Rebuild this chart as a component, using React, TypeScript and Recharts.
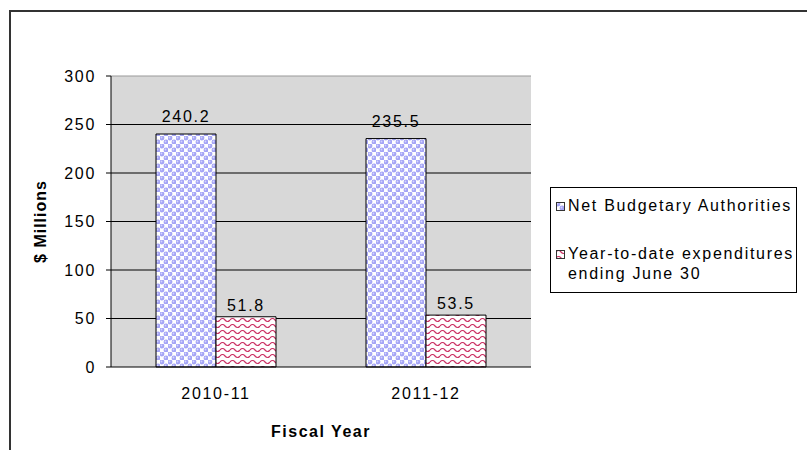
import React from 'react';
import {
  BarChart,
  Bar,
  XAxis,
  YAxis,
  CartesianGrid,
  LabelList,
  ReferenceLine,
} from 'recharts';

const categories = ['2010-11', '2011-12'];
const netBudgetary = [240.2, 235.5];
const ytdExpenditures = [51.8, 53.5];
const yTicks = [0, 50, 100, 150, 200, 250, 300];
const gridValues = [50, 100, 150, 200, 250];

const data = categories.map((name, i) => ({
  name,
  net: netBudgetary[i],
  ytd: ytdExpenditures[i],
}));

const FONT = '"Liberation Sans", Arial, sans-serif';
const SPACING = 1.7;

const legendItems = [
  { key: 'net', fill: 'url(#dots)', lines: ['Net Budgetary Authorities'] },
  { key: 'ytd', fill: 'url(#waves)', lines: ['Year-to-date expenditures', 'ending June 30'] },
];

function LegendBox() {
  return (
    <div
      style={{
        position: 'absolute',
        left: 550,
        top: 187,
        width: 245,
        height: 104,
        border: '1px solid #000',
        background: '#fff',
        fontFamily: FONT,
        fontSize: 16,
        letterSpacing: SPACING,
        color: '#000',
      }}
    >
      {legendItems.map((it, i) => (
        <div
          key={it.key}
          style={{
            display: 'flex',
            alignItems: 'flex-start',
            marginLeft: 5,
            marginTop: i === 0 ? 8 : 28,
            lineHeight: '20px',
          }}
        >
          <svg width={9} height={9} style={{ marginTop: 6, marginRight: 3, flexShrink: 0 }}>
            <rect x={0.5} y={0.5} width={8} height={8} fill={it.fill} stroke="#333" />
          </svg>
          <div>
            {it.lines.map((l) => (
              <div key={l}>{l}</div>
            ))}
          </div>
        </div>
      ))}
    </div>
  );
}

export default function App() {
  return (
    <div style={{ position: 'absolute', left: 0, top: 0, width: 807, height: 450, background: '#fff' }}>
      <div
        style={{
          position: 'absolute',
          left: 9,
          top: 10,
          width: 798,
          height: 440,
          borderTop: '2px solid #333',
          borderLeft: '2px solid #333',
        }}
      />
      <BarChart
        width={807}
        height={450}
        data={data}
        margin={{ top: 76, right: 276, bottom: 0, left: 0 }}
        barSize={60}
        barGap={0}
        style={{ position: 'absolute', left: 0, top: 0, fontFamily: FONT }}
      >
        <defs>
          <pattern id="dots" width={8} height={8} patternUnits="userSpaceOnUse">
            <rect width={8} height={8} fill="#fff" />
            <circle cx={2} cy={2} r={2.4} fill="#a3a3f5" />
            <circle cx={6} cy={6} r={2.4} fill="#a3a3f5" />
            <circle cx={1.5} cy={1.5} r={0.9} fill="#d4d4ff" />
            <circle cx={5.5} cy={5.5} r={0.9} fill="#d4d4ff" />
          </pattern>
          <pattern id="waves" width={10} height={6} patternUnits="userSpaceOnUse">
            <rect width={10} height={6} fill="#fff" />
            <path d="M0 2 Q2.5 -1 5 2 T10 2" fill="none" stroke="#cc3366" strokeWidth={1.2} />
          </pattern>
        </defs>
        <CartesianGrid
          vertical={false}
          horizontalValues={gridValues}
          stroke="#000"
          fill="#d8d8d8"
          fillOpacity={1}
        />
        <XAxis
          xAxisId="b"
          type="number"
          domain={[0, 2]}
          ticks={[0, 1, 2]}
          allowDataOverflow
          height={0}
          tick={false}
          tickSize={5}
          tickLine={{ stroke: '#000' }}
          axisLine={false}
        />
        <XAxis
          dataKey="name"
          height={83}
          tickLine={false}
          tickSize={0}
          tickMargin={21}
          axisLine={{ stroke: '#000' }}
          tick={{ fill: '#000', fontSize: 16, fontFamily: FONT, letterSpacing: SPACING }}
          label={{
            value: 'Fiscal Year',
            position: 'insideBottom',
            offset: 13,
            fill: '#000',
            fontSize: 16,
            fontWeight: 'bold',
            fontFamily: FONT,
            letterSpacing: 1.5,
          }}
        />
        <YAxis
          width={111}
          domain={[0, 300]}
          ticks={yTicks}
          tickSize={5}
          tickMargin={10}
          axisLine={{ stroke: '#000' }}
          tickLine={{ stroke: '#000' }}
          tick={{ fill: '#000', fontSize: 16, fontFamily: FONT, letterSpacing: SPACING }}
          label={{
            value: '$ Millions',
            angle: -90,
            position: 'center',
            dx: -15,
            fill: '#000',
            fontSize: 16,
            fontWeight: 'bold',
            fontFamily: FONT,
            letterSpacing: 1,
          }}
        />
        <ReferenceLine y={300} stroke="#999" />
        <ReferenceLine x={2} xAxisId="b" stroke="#999" />
        <Bar dataKey="net" fill="url(#dots)" stroke="#000" strokeWidth={1} isAnimationActive={false}>
          <LabelList
            dataKey="net"
            position="top"
            offset={12}
            fill="#000"
            fontSize={16}
            fontFamily={FONT}
            letterSpacing={SPACING}
          />
        </Bar>
        <Bar dataKey="ytd" fill="url(#waves)" stroke="#000" strokeWidth={1} isAnimationActive={false}>
          <LabelList
            dataKey="ytd"
            position="top"
            offset={6}
            fill="#000"
            fontSize={16}
            fontFamily={FONT}
            letterSpacing={SPACING}
          />
        </Bar>
      </BarChart>
      <LegendBox />
    </div>
  );
}
